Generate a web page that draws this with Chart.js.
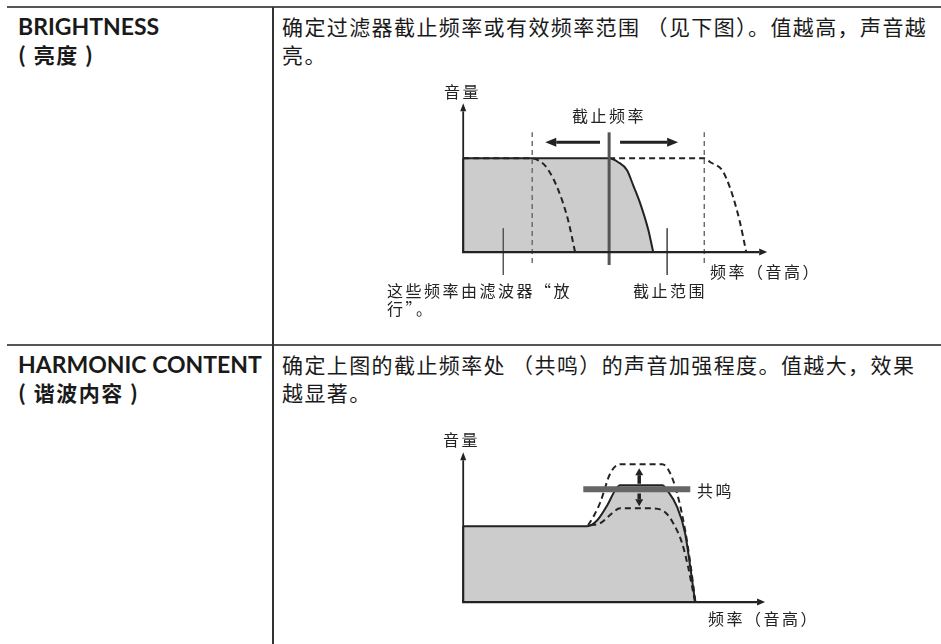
<!DOCTYPE html>
<html lang="zh-CN">
<head>
<meta charset="utf-8">
<title>BRIGHTNESS / HARMONIC CONTENT</title>
<script src="https://cdn.jsdelivr.net/npm/chart.js@4.4.1/dist/chart.umd.min.js"></script>
<style>
  html, body { margin: 0; padding: 0; background: #fff; }
  body { width: 941px; height: 644px; position: relative; overflow: hidden;
         font-family: "Noto Sans CJK SC", sans-serif; color: #1a1a1a; }
  .rule-h { position: absolute; left: 7px; right: 0; height: 2px; background: #555; }
  .rule-v { position: absolute; left: 272px; width: 1.5px; top: 7px; bottom: 0; background: #333; }
  .term { position: absolute; left: 18px; font: 700 23px/28px Lato, "Noto Sans CJK SC", sans-serif; white-space: nowrap; }
  .term .zh { font-family: "Noto Sans CJK SC", sans-serif; font-size: 21px; font-weight: 700; letter-spacing: 1.5px; }
  .desc { position: absolute; left: 282px; font: 400 21px/28px "Noto Sans CJK SC", sans-serif;
          letter-spacing: 1.4px; white-space: nowrap; }
  .lbl { position: absolute; font: 400 16px/18px "Noto Sans CJK SC", sans-serif;
         letter-spacing: 2.5px; color: #222; white-space: nowrap; }
  canvas { position: absolute; }
</style>
</head>
<body>

<div class="rule-h" style="top:6px"></div>
<div class="rule-h" style="top:344px"></div>
<div class="rule-v"></div>

<div class="term" style="top:12px">BRIGHTNESS<br><span class="zh">( 亮度 )</span></div>
<div class="desc" style="top:12px">确定过滤器截止频率或有效频率范围 （见下图）。值越高，声音越<br>亮。</div>

<div class="term" style="top:350px">HARMONIC CONTENT<br><span class="zh">( 谐波内容 )</span></div>
<div class="desc" style="top:350px">确定上图的截止频率处 （共鸣）的声音加强程度。值越大，效果<br>越显著。</div>

<canvas id="brightChart" width="456" height="238" style="left:372px; top:81px"></canvas>
<canvas id="harmChart" width="456" height="238" style="left:372px; top:431px"></canvas>

<div class="lbl" style="left:444px; top:82px">音量</div>
<div class="lbl" style="left:572px; top:106px">截止频率</div>
<div class="lbl" style="left:387px; top:281px">这些频率由滤波器“放<br>行”。</div>
<div class="lbl" style="left:633px; top:281px">截止范围</div>
<div class="lbl" style="left:710px; top:262px">频率（音高）</div>

<div class="lbl" style="left:443px; top:430px">音量</div>
<div class="lbl" style="left:697px; top:481px">共鸣</div>
<div class="lbl" style="left:708px; top:609px">频率（音高）</div>

<script>
// 亮度 (BRIGHTNESS) 图：横轴 = 频率，纵轴 = 音量（0 到坐标轴箭头 = 100）
const brightAxisEnd = { x: 100, y: 100 };
const brightSolidX = [0, 48, 51, 53.9, 55.9, 58.2, 60.9, 62.5];
const brightSolidY = [63, 63, 60.4, 55, 45, 32.9, 14.8, 0];
const brightLowX = [0, 22.7, 24.7, 27.6, 31.3, 34.5, 36.8];
const brightLowY = [63, 63, 61.7, 56.4, 41.6, 21.5, 0];
const brightHighX = [48, 79.3, 81.3, 85.2, 86.8, 88.8, 91.1, 93.1];
const brightHighY = [63, 63, 60.4, 55, 48.3, 36.9, 19.5, 0];
const brightGuideX = [22.7, 79.3];        // 虚线：截止频率可调范围
const brightGuideY = [-7.4, 80.5];
const brightCutoffX = 48;                 // 当前截止频率
const brightCutoffY = [-8.7, 80.5];
const brightLeaderX = [13.2, 67.1];       // 标注引线
const brightLeaderY = [16, -15.4];
const brightArrows = [[[45, 73.8], [27, 73.8]], [[51.6, 73.8], [70.7, 73.8]]];

// 谐波内容 (HARMONIC CONTENT) 图
const harmAxisEnd = { x: 99.3, y: 100.7 };
const harmSolidX = [0, 40.8, 44.1, 47.4, 50, 51.6, 65.5, 67.1, 70.4, 73, 74.7, 76.3];
const harmSolidY = [51, 51, 55, 65.1, 75.2, 78.5, 78.5, 75.2, 63.8, 46.3, 23.5, 0];
const harmHighX = [41.1, 43.1, 45.1, 48.4, 51.6, 65.5, 68.1, 70.7, 73, 74.7, 76.4];
const harmHighY = [51.7, 58.4, 67.1, 86.6, 92.6, 92.6, 86.6, 70.5, 48.3, 26.2, 0];
const harmLowX = [41.8, 45.1, 49, 51.6, 62.5, 66.4, 69.1, 72, 74, 75.7, 76.3];
const harmLowY = [51.7, 53, 59.7, 63, 63, 60.4, 53, 39.6, 23.5, 6, 0];
const harmBarX = [39.5, 74.7];            // 共鸣
const harmBarY = 75.8;
const harmArrows = [[[57.9, 79.5], [57.9, 90]], [[57.9, 73], [57.9, 64.4]]];

const ink = '#222';
const fillGray = '#cccccc';

function pts(xs, ys) {
    return xs.map((x, i) => ({ x: x, y: ys[i] }));
}

function vline(x, ys) {
    return [{ x: x, y: ys[0] }, { x: x, y: ys[1] }];
}

function drawArrow(ctx, x0, y0, x1, y1, lw, hl, hw) {
    const a = Math.atan2(y1 - y0, x1 - x0);
    const bx = x1 - Math.cos(a) * hl, by = y1 - Math.sin(a) * hl;
    ctx.lineWidth = lw;
    ctx.beginPath();
    ctx.moveTo(x0, y0);
    ctx.lineTo(bx, by);
    ctx.stroke();
    ctx.beginPath();
    ctx.moveTo(x1, y1);
    ctx.lineTo(bx + Math.sin(a) * hw / 2, by - Math.cos(a) * hw / 2);
    ctx.lineTo(bx - Math.sin(a) * hw / 2, by + Math.cos(a) * hw / 2);
    ctx.closePath();
    ctx.fill();
}

// 坐标轴与箭头
const diagramExtras = {
    id: 'diagramExtras',
    afterDatasetsDraw(chart, args, opts) {
        const { ctx, scales: { x, y } } = chart;
        const px = v => x.getPixelForValue(v);
        const py = v => y.getPixelForValue(v);
        ctx.save();
        ctx.strokeStyle = ink;
        ctx.fillStyle = ink;
        drawArrow(ctx, px(0), py(0) + 1, px(0), py(opts.axisEnd.y), 1.8, 8, 6);
        drawArrow(ctx, px(0) - 1, py(0), px(opts.axisEnd.x), py(0), 2.2, 8, 7);
        opts.arrows.forEach(a => {
            drawArrow(ctx, px(a[0][0]), py(a[0][1]), px(a[1][0]), py(a[1][1]),
                opts.arrowWidth, opts.headLen, opts.headWidth);
        });
        ctx.restore();
    }
};

function makeDiagram(id, datasets, extras) {
    return new Chart(document.getElementById(id), {
        type: 'scatter',
        data: { datasets: datasets },
        options: {
            responsive: false,
            animation: false,
            events: [],
            layout: { padding: 0 },
            elements: { point: { radius: 0 } },
            plugins: {
                legend: { display: false },
                tooltip: { enabled: false },
                diagramExtras: extras
            },
            scales: {
                x: { type: 'linear', min: -30, max: 120, display: false },
                y: { type: 'linear', min: -45, max: 115, display: false }
            }
        },
        plugins: [diagramExtras]
    });
}

const curve = { showLine: true, cubicInterpolationMode: 'monotone', borderColor: ink, borderWidth: 2 };
const dashedCurve = Object.assign({}, curve, { borderDash: [6, 4], fill: false });

makeDiagram('brightChart', [
    Object.assign({}, curve, { data: pts(brightSolidX, brightSolidY), fill: 'origin', backgroundColor: fillGray, order: 6 }),
    { data: vline(0, [0, brightSolidY[0]]), showLine: true, borderColor: ink, borderWidth: 2, order: 5 },
    Object.assign({}, dashedCurve, { data: pts(brightLowX, brightLowY), order: 4 }),
    Object.assign({}, dashedCurve, { data: pts(brightHighX, brightHighY), order: 4 }),
    ...brightGuideX.map(gx => ({ data: vline(gx, brightGuideY), showLine: true, borderColor: '#666',
        borderWidth: 1.4, borderDash: [5, 4], order: 3 })),
    { data: vline(brightCutoffX, brightCutoffY), showLine: true, borderColor: '#555', borderWidth: 3, order: 2 },
    ...brightLeaderX.map(lx => ({ data: vline(lx, brightLeaderY), showLine: true, borderColor: '#555',
        borderWidth: 1, order: 2 }))
], { axisEnd: brightAxisEnd, arrows: brightArrows, arrowWidth: 3, headLen: 11, headWidth: 9 });

makeDiagram('harmChart', [
    Object.assign({}, curve, { data: pts(harmSolidX, harmSolidY), fill: 'origin', backgroundColor: fillGray, order: 6 }),
    { data: vline(0, [0, harmSolidY[0]]), showLine: true, borderColor: ink, borderWidth: 2, order: 5 },
    Object.assign({}, dashedCurve, { data: pts(harmHighX, harmHighY), order: 4 }),
    Object.assign({}, dashedCurve, { data: pts(harmLowX, harmLowY), order: 4 }),
    { data: [{ x: harmBarX[0], y: harmBarY }, { x: harmBarX[1], y: harmBarY }], showLine: true,
        borderColor: '#666', borderWidth: 6, order: 1 }
], { axisEnd: harmAxisEnd, arrows: harmArrows, arrowWidth: 3.5, headLen: 7, headWidth: 8 });
</script>
</body>
</html>
